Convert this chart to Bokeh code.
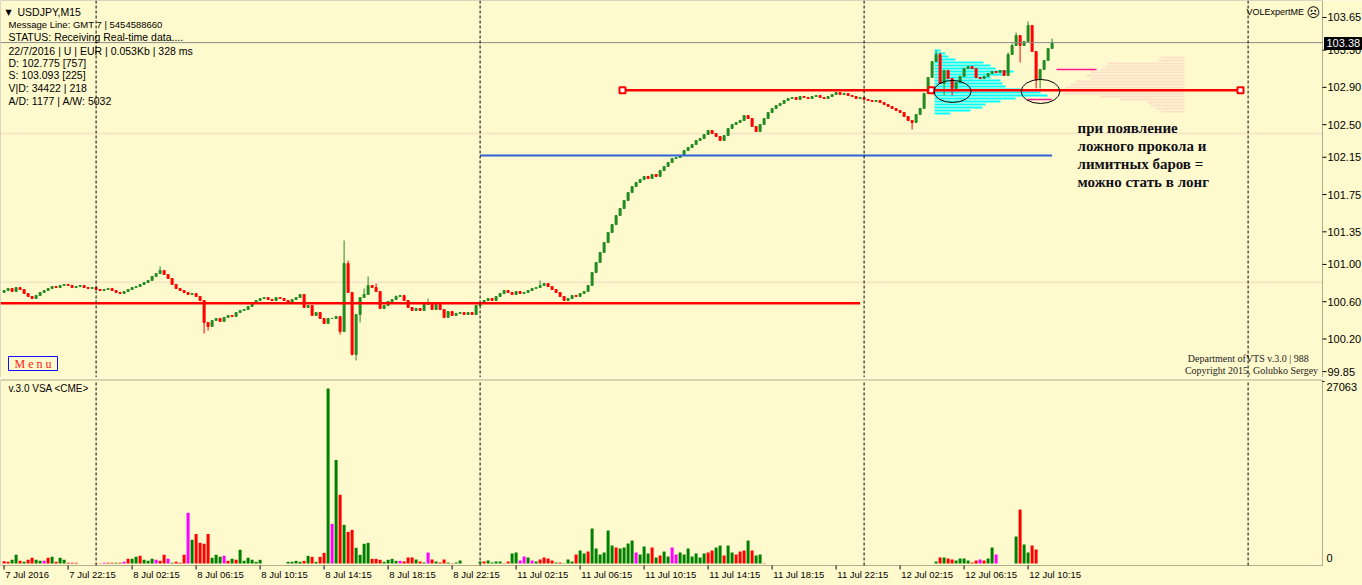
from bokeh.plotting import figure
from bokeh.layouts import column
from bokeh.models import Range1d, Span, BoxAnnotation
from bokeh.core.properties import value
from bokeh.embed import file_html
from bokeh.resources import INLINE

# ------------------------------------------------------------------ data
first_open = 100.700
close = [
 100.720,100.742,100.710,100.752,100.731,100.688,100.656,100.634,100.667,100.699,
 100.720,100.742,100.763,100.752,100.774,100.785,100.774,100.752,100.763,100.774,
 100.752,100.742,100.752,100.731,100.720,100.731,100.742,100.720,100.699,100.688,
 100.710,100.731,100.752,100.763,100.785,100.806,100.828,100.871,100.903,100.935,
 100.892,100.849,100.785,100.742,100.720,100.699,100.677,100.688,100.656,100.613,
 100.377,100.334,100.398,100.420,100.388,100.431,100.452,100.441,100.484,100.506,
 100.516,100.549,100.581,100.613,100.634,100.645,100.624,100.613,100.645,100.634,
 100.613,100.592,100.624,100.645,100.677,100.538,100.559,100.452,100.484,100.420,
 100.366,100.420,100.420,100.441,100.280,101.010,100.699,100.034,100.463,100.645,
 100.677,100.774,100.752,100.710,100.527,100.559,100.602,100.624,100.656,100.667,
 100.613,100.538,100.506,100.527,100.506,100.570,100.581,100.516,100.570,100.516,
 100.431,100.495,100.452,100.474,100.484,100.463,100.484,100.463,100.559,100.581,
 100.613,100.634,100.613,100.656,100.688,100.720,100.699,100.677,100.710,100.688,
 100.699,100.720,100.742,100.752,100.774,100.795,100.763,100.731,100.699,100.656,
 100.613,100.634,100.667,100.656,100.688,100.710,100.774,100.913,101.021,101.128,
 101.235,101.343,101.428,101.525,101.600,101.686,101.772,101.836,101.879,101.911,
 101.944,101.922,101.965,101.944,102.008,102.051,102.094,102.137,102.147,102.169,
 102.222,102.255,102.287,102.330,102.351,102.394,102.437,102.405,102.373,102.330,
 102.383,102.459,102.501,102.523,102.544,102.598,102.566,102.480,102.426,102.501,
 102.566,102.630,102.673,102.705,102.727,102.759,102.780,102.791,102.770,102.802,
 102.791,102.780,102.802,102.813,102.791,102.780,102.802,102.823,102.845,102.823,
 102.834,102.813,102.802,102.780,102.791,102.770,102.759,102.748,102.759,102.738,
 102.716,102.695,102.673,102.652,102.630,102.587,102.544,102.523,102.609,102.673,
 102.834,103.006,103.177,103.253,102.941,103.081,102.995,102.888,102.952,103.017,
 103.102,103.124,103.102,103.006,102.995,103.017,103.049,103.070,103.059,103.081,
 103.027,103.253,103.349,103.456,103.349,103.392,103.564,103.285,102.984,103.092,
 103.188,103.317,103.380,
]
high_ext = {39: 100.978, 85: 101.257, 86: 101.042, 90: 100.742, 91: 100.871,
            93: 100.795, 98: 100.667, 106: 100.634, 134: 100.828, 233: 103.295,
            234: 103.274, 251: 103.274, 252: 103.371, 253: 103.489, 256: 103.607,
            262: 103.424}
low_ext = {50: 100.259, 51: 100.291, 84: 100.248, 87: 100.023, 88: 99.969,
           89: 100.377, 227: 102.448, 235: 102.813, 237: 102.813, 254: 103.167,
           258: 102.888, 259: 102.888}

volume = (
 [360,260,570,1340,410,260,570,880,570,410,410,880,1030,260,880,570,100,100,100]
 + [0, 0, 0, 0]
 + [50,50,100,100,100,100,100,260,720,720,1030,1180,570,410,720,570,410,1340,720,100,
    260,100,1340,7830,3660,4580,3190,3040,4580,880,1340,1030,1180,410,720,570,2110,410,
    880,570,260,570]
 + [0, 0, 0, 0, 0, 0]
 + [260,260,410,260,410,1180,1030,260,1030,1650,27063,6130,16020,10610,5970,4890,5200,
    2420,1340,3040,3190,720,720,570,260,570,720,410,410]
 + [310,930,930,620,310,150,1700,620,310,150,620,150,50,150,460]
 + [0, 0, 0, 0]
 + [310,310,460,150,310,310,50,310,1550,1700, 460,1080,930,460,310,620,930,770,460,150,
    150,50,620,310,1390,2010,1550,1850,5410,2320, 1390,1700,5100,2780,2470,2320,2470,3090,3550,1700,
    1390,2630,1550,2470,930,1240,1850,1080,2470,1390, 1700,1390,2320,1080,1550,930,1550,1700,2010,2470,
    2780,1240,2780,1700,1390,1850,2010,3550,2010,1240, 1390,50]
 + [0] * 42
 + [310,930,930,770,620,460,770,770,460,150,460,620,460,770,2470,1390]
 + [0, 0, 0, 0]
 + [4170,8340,2940,1700,2780,2160]
 + [0, 0, 0, 0]
)
vol_kind = list(
 "rrggrgrrggmrgrggrrr" + "...."
 + "rrmrrgrmrggrgggmrrmgrrrmgrrrrgggmrgrgggggg" + "......"
 + "ggggrgrgrrgmgrgrrggggrrrggggm"
 + "rrrgrgmrgrrgrgg" + "...."
 + "grggggrrggmmgmgrrrrgrgggrggrggggggrggggmgggrgrggmmgggggggrrggrggrrrgrggr"
 + "." * 42
 + "grgrrggggrrmrggm" + "...."
 + "grggrr" + "...."
)

time_ticks = [0, 16, 32, 48, 64, 80, 96, 112, 128, 144, 160, 176, 192, 208, 224, 240, 256]
time_labels = ["7 Jul 2016", "7 Jul 22:15", "8 Jul 02:15", "8 Jul 06:15", "8 Jul 10:15",
               "8 Jul 14:15", "8 Jul 18:15", "8 Jul 22:15", "11 Jul 02:15", "11 Jul 06:15",
               "11 Jul 10:15", "11 Jul 14:15", "11 Jul 18:15", "11 Jul 22:15",
               "12 Jul 02:15", "12 Jul 06:15", "12 Jul 10:15"]
price_ticks = [103.65, 103.30, 102.90, 102.50, 102.15, 101.75, 101.35, 101.00, 100.60, 100.20, 99.85]
vol_scale_max = 27063
day_breaks = [23, 119, 215, 311]

support_level, support_end = 100.584, 214
blue_level, blue_from, blue_to = 102.169, 119, 262
resist_level, resist_points = 102.870, [154.6, 231.8, 309.1]
bid_price = 103.38
faint_levels = [100.809, 102.405]
pink_lines = [(103.092, 263.1, 273.1), (102.770, 255.8, 261.9)]

cyan_anchor = 232.6
cyan_levels = [103.296, 103.263, 103.231, 103.199, 103.167, 103.135, 103.102, 103.070,
               103.038, 103.006, 102.974, 102.941, 102.909, 102.877, 102.845, 102.813,
               102.780, 102.748, 102.716, 102.684, 102.652, 102.620]
cyan_len = [1.5, 2.75, 3.5, 5.25, 12.25, 14, 15.25, 19.75, 17.75, 14, 16.5, 17, 17.75,
            21.5, 26.5, 28.25, 20.25, 16.5, 12.75, 12, 9, 4]
peach_anchor = 295.1
peach_levels = [103.220, 103.188, 103.156, 103.124, 103.092, 103.059, 103.027, 102.995,
                102.963, 102.931, 102.899, 102.866, 102.834, 102.802, 102.770, 102.738,
                102.705, 102.673, 102.641]
peach_len = [6, 6.75, 19.25, 19.75, 21, 23.5, 24.75, 23.5, 27.25, 28.5, 29.75, 31.5,
             30.5, 21, 16, 9.25, 8.5, 7.25, 6]
ellipse_x = [237.1, 259.1]
ellipse_y = [102.856, 102.856]
ellipse_w = [9.3, 9.7]
ellipse_h = [0.236, 0.258]

note_lines = ["при появление", "ложного прокола и", "лимитных баров =", "можно стать в лонг"]
info_lines = ["STATUS:  Receiving Real-time data....",
              "22/7/2016 | U | EUR | 0.053Kb | 328 ms",
              "D: 102.775  [757]", "S: 103.093  [225]",
              "V|D: 34422 | 218", "A/D: 1177 | A/W: 5032"]

# ------------------------------------------------------------------ helpers (layout only)
def X(px):      # reference pixel column -> bar units
    return (px - 3.6) / 4.0

def Y(py):      # reference pixel row (price pane) -> price units
    return 103.832 - 0.01073 * py

def VY(py):     # reference pixel row (volume pane) -> volume units
    return (563 - py) * 154.6

BG = "#FFFACD"
GREEN = "#228B22"
RED = "#FF0000"
SANS = value("Liberation Sans")
SERIF = value("Liberation Serif")
W = 1362
PLOT_RIGHT = X(1322)

xr = Range1d(X(0), X(1362))

def txt(fig, x, y, s, size="10px", font=SANS, color="black", align="left",
        style="normal"):
    fig.text(x=[x], y=[y], text=[s], text_font=font, text_font_size=size,
             text_color=color, text_align=align, text_baseline="middle",
             text_font_style=style)

def pane(height, yr):
    f = figure(width=W, height=height, x_range=xr, y_range=yr,
               output_backend="svg", toolbar_location=None, x_axis_location=None,
               y_axis_location=None, min_border=0,
               background_fill_color=BG, border_fill_color=BG, outline_line_color=None)
    f.grid.visible = False
    return f

# ------------------------------------------------------------------ price pane
p = pane(377, Range1d(Y(377), Y(0)))

for lv in faint_levels:
    p.segment(x0=[X(0)], y0=[lv], x1=[PLOT_RIGHT], y1=[lv], line_color="#F5E6C6",
              line_width=2)

# volume profiles
p.hbar(y=cyan_levels, left=cyan_anchor, right=[cyan_anchor + v for v in cyan_len],
       height=0.0215, fill_color="#00FFFF", line_color=None)
p.hbar(y=peach_levels, left=[peach_anchor - v for v in peach_len], right=peach_anchor,
       height=0.0215, fill_color="#FCDFC8", line_color=None)

for b in day_breaks:
    p.add_layout(Span(location=b, dimension="height", line_color="black",
                      line_width=1, line_dash="3 2"))

# candles
n = len(close)
opens = [first_open] + close[:-1]
idx = list(range(n))
highs = [max(opens[i], close[i], high_ext.get(i, -1e9)) for i in idx]
lows = [min(opens[i], close[i], low_ext.get(i, 1e9)) for i in idx]
ccol = [GREEN if close[i] >= opens[i] else RED for i in idx]
p.segment(x0=idx, y0=lows, x1=idx, y1=highs, line_color=ccol, line_width=1)
p.vbar(x=idx, top=[max(o, c) for o, c in zip(opens, close)],
       bottom=[min(o, c) for o, c in zip(opens, close)], width=0.5,
       fill_color=ccol, line_color=ccol, line_width=1)

# levels
p.segment(x0=[X(0)], y0=[support_level], x1=[support_end], y1=[support_level],
          line_color=RED, line_width=2.5)
p.segment(x0=[blue_from], y0=[blue_level], x1=[blue_to], y1=[blue_level],
          line_color="#2D62D8", line_width=2)
p.segment(x0=[resist_points[0]], y0=[resist_level], x1=[resist_points[-1]],
          y1=[resist_level], line_color=RED, line_width=2.5)
p.scatter(x=resist_points, y=[resist_level] * 3, marker="square", size=6,
          fill_color="white", line_color=RED, line_width=2)
p.segment(x0=[X(0)], y0=[bid_price], x1=[PLOT_RIGHT], y1=[bid_price],
          line_color="#8C8C8C", line_width=1)
for lv, a, b in pink_lines:
    p.segment(x0=[a], y0=[lv], x1=[b], y1=[lv], line_color="#FF1493", line_width=1.5)
p.ellipse(x=ellipse_x, y=ellipse_y, width=ellipse_w, height=ellipse_h,
          fill_color=None, line_color="black", line_width=1)

# frame and price scale
p.add_layout(BoxAnnotation(right=PLOT_RIGHT, fill_alpha=0, line_color="black",
                           line_width=1))
p.segment(x0=[PLOT_RIGHT] * len(price_ticks), y0=price_ticks,
          x1=[X(1326)] * len(price_ticks), y1=price_ticks, line_color="black")
p.text(x=[X(1327)] * len(price_ticks), y=price_ticks,
       text=["%.2f" % t for t in price_ticks], text_font=SANS, text_font_size="11px",
       text_color="black", text_align="left", text_baseline="middle")
p.quad(left=[X(1324)], right=[X(1361)], top=[Y(37)], bottom=[Y(49)],
       fill_color="black", line_color="black")
txt(p, X(1326), bid_price, "%.2f" % bid_price, size="11px", color="white")

# texts
txt(p, X(5), Y(11.5), "▼", size="8px", font=value("DejaVu Sans"))
txt(p, X(17), Y(11.5), "USDJPY,M15", size="10.5px")
txt(p, X(8), Y(24), "Message Line: GMT 7 | 5454588660", size="9.5px")
for k, s in enumerate(info_lines):
    txt(p, X(8), Y(36 + [0, 14, 26.5, 38.5, 51.5, 64][k]), s, size="10.5px")
txt(p, X(1246), Y(11.5), "VOLExpertME", size="9px")
txt(p, X(1306), Y(11.5), "☹", size="13px", font=value("DejaVu Sans"))
txt(p, X(1249), Y(358), "Department ofVTS  v.3.0 | 988", size="10px", font=SERIF,
    align="center", color="#222222")
txt(p, X(1251), Y(369.5), "Copyright 2015, Golubko Sergey", size="10px", font=SERIF,
    align="center", color="#222222")
for k, s in enumerate(note_lines):
    txt(p, X(1077), Y(127 + 18 * k), s, size="15px", font=SERIF, style="bold",
        color="#101018")
p.quad(left=[X(8)], right=[X(57)], top=[Y(356)], bottom=[Y(370)], fill_color=None,
       line_color="#1010FF", line_width=1)
txt(p, X(32.5), Y(363.5), "M e n u", size="12px", font=SERIF, color="#FF2020",
    align="center")

# ------------------------------------------------------------------ volume pane
pv = pane(208, Range1d(VY(585), VY(377)))

pv.add_layout(BoxAnnotation(right=PLOT_RIGHT, bottom=VY(565), top=VY(379.5),
                            fill_alpha=0, line_color="black", line_width=1))
pv.segment(x0=day_breaks, y0=[VY(565)] * 4, x1=day_breaks, y1=[VY(380)] * 4,
           line_color="black", line_width=1, line_dash="3 2")

kind_col = {"g": "#008000", "r": "#FF0000", "m": "#FF00FF"}
vi = [i for i in range(len(volume)) if volume[i] > 0]
pv.vbar(x=vi, top=[volume[i] for i in vi], bottom=0, width=0.75,
        fill_color=[kind_col[vol_kind[i]] for i in vi], line_color=None)

txt(pv, X(8), VY(388), "v.3.0 VSA <CME>", size="10px")
# volume scale labels
txt(pv, X(1326), VY(386), "%d" % vol_scale_max, size="11px")
txt(pv, X(1326), VY(557), "0", size="11px")
pv.segment(x0=[PLOT_RIGHT], y0=[VY(381)], x1=[X(1324)], y1=[VY(381)], line_color="black")

# time scale
pv.segment(x0=time_ticks, y0=[VY(565)] * len(time_ticks), x1=time_ticks,
           y1=[VY(569)] * len(time_ticks), line_color="black", line_width=1)
pv.text(x=[t + 0.3 for t in time_ticks], y=[VY(574)] * len(time_ticks), text=time_labels,
        text_font=SANS, text_font_size="9.5px", text_color="black",
        text_align="left", text_baseline="middle")

layout = column(p, pv, spacing=0)
open("out.html", "w").write(file_html(layout, INLINE))
